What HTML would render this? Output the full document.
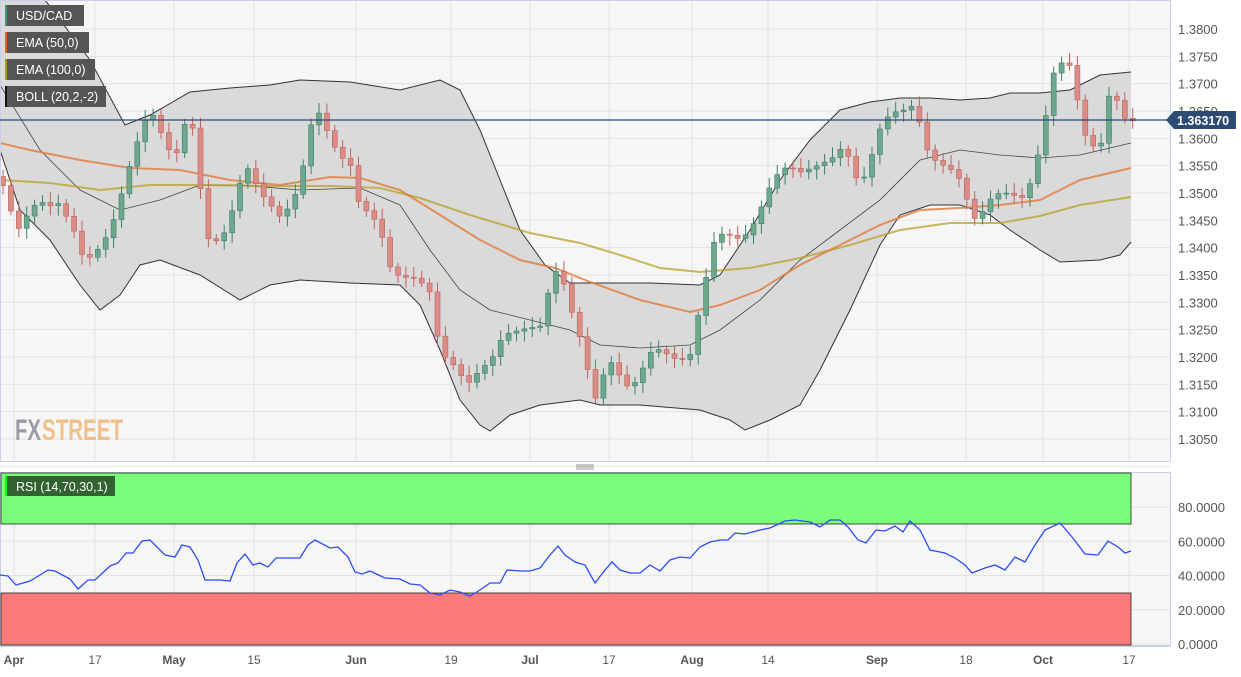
<!DOCTYPE html>
<html><head><meta charset="utf-8"><style>
html,body{margin:0;padding:0;background:#fff;}
body{width:1241px;height:672px;overflow:hidden;font-family:"Liberation Sans",sans-serif;}
</style></head><body>
<svg id="s" width="1241" height="672" xmlns="http://www.w3.org/2000/svg" font-family="Liberation Sans, sans-serif"></svg>
<script>
const S=document.getElementById('s');let h='';
const PY=p=>29+(1.38-p)*5466;
h+='<rect x="0" y="0" width="1241" height="672" fill="#fff"/>';
h+='<rect x="0.5" y="0.5" width="1170" height="461" fill="#f6f6f6" stroke="#c8d2e6"/>';
h+='<rect x="0.5" y="472.5" width="1170" height="173" fill="#f6f6f6" stroke="#c8d2e6"/>';
h+='<line x1="0" y1="646.5" x2="1170" y2="646.5" stroke="#c8d2e6"/>';
const vx=[14,95,174,254,356,451,530,609,692,768,877,966,1043,1129];
vx.forEach(x=>{h+=`<line x1="${x}" y1="1" x2="${x}" y2="461" stroke="#e2e2e2"/><line x1="${x}" y1="473" x2="${x}" y2="645" stroke="#e2e2e2"/>`});
for(let k=0;k<17;k++){const y=29+k*27.33;h+=`<line x1="1" y1="${y}" x2="1170" y2="${y}" stroke="#e2e2e2"/>`;
 if(k<16)h+=`<text x="1178" y="${y+5}" font-size="13" fill="#555">${(1.38-k*0.005).toFixed(4)}</text>`;}
[80,60,40,20,0].forEach(v=>{const y=644-v*1.7125;h+=`<line x1="1" y1="${y}" x2="1170" y2="${y}" stroke="#e2e2e2"/><text x="1178" y="${y+5}" font-size="13" fill="#555">${v.toFixed(4)}</text>`});
h+='<text x="15" y="440" font-size="30" font-weight="bold" fill="#9a9ca3" textLength="26" lengthAdjust="spacingAndGlyphs">FX</text><text x="42" y="440" font-size="30" font-weight="bold" fill="#f0c08a" textLength="81" lengthAdjust="spacingAndGlyphs">STREET</text>';
const P=a=>a.map(p=>p.join(',')).join(' ');
const up=[[0,-20],[45,0],[90,60],[125,125],[150,115],[190,92],[230,88],[270,85],[300,80],[350,82],[400,90],[440,80],[460,90],[480,130],[500,180],[520,230],[545,265],[570,283],[600,283],[650,283],[700,285],[720,275],[750,230],[780,180],[810,140],[840,110],[870,102],[900,98],[930,98],[960,100],[990,98],[1010,93],[1040,93],[1070,90],[1100,75],[1131,72]];
const lo=[[0,150],[20,210],[50,240],[80,285],[100,310],[120,295],[140,265],[160,260],[200,275],[240,300],[270,285],[300,280],[350,283],[400,285],[420,305],[440,350],[460,400],[480,425],[490,431],[510,415],[540,405],[580,400],[600,405],[640,405],[700,410],[730,420],[745,430],[770,420],[800,405],[820,370],[850,310],[880,245],[900,215],[930,205],[960,205],[990,215],[1010,230],[1040,250],[1060,262],[1100,260],[1120,255],[1131,242]];
const mid=[[0,85],[40,150],[80,190],[120,210],[160,200],[200,185],[240,185],[300,190],[360,188],[400,205],[430,250],[460,290],[490,310],[530,320],[570,330],[600,345],[640,348],[690,345],[720,330],[760,300],[800,260],[840,230],[880,200],[920,160],[960,150],[1000,155],[1040,158],[1080,155],[1131,143]];
const e50=[[0,143],[30,150],[80,160],[130,168],[180,170],[230,180],[280,185],[330,177],[360,178],[400,190],[440,215],[480,240],[520,260],[555,268],[590,282],[640,300],[690,312],[720,305],[760,290],[800,265],[840,245],[880,225],[920,210],[960,208],[1000,205],[1040,200],[1080,180],[1131,168]];
const e100=[[0,180],[50,183],[100,190],[150,185],[200,185],[260,186],[330,186],[380,188],[420,198],[470,215],[530,233],[580,243],[620,255],[660,268],[700,272],[750,268],[800,258],[850,245],[900,230],[950,223],[1000,223],[1040,216],[1080,205],[1131,197]];
h+='<defs><clipPath id="c"><rect x="1" y="1" width="1169" height="460"/></clipPath></defs><g clip-path="url(#c)">';
h+=`<polygon points="${P(up)} ${P(lo.slice().reverse())}" fill="#dadada"/>`;
h+=`<polyline points="${P(up)}" fill="none" stroke="#333" stroke-width="1"/><polyline points="${P(lo)}" fill="none" stroke="#333" stroke-width="1"/><polyline points="${P(mid)}" fill="none" stroke="#444" stroke-width="0.8"/>`;
h+=`<polyline points="${P(e100)}" fill="none" stroke="#b5a228" stroke-width="2" opacity="0.75"/><polyline points="${P(e50)}" fill="none" stroke="#e07a3a" stroke-width="2" opacity="0.8"/>`;
const an=[[3,1.3530],[14,1.3450],[20,1.3420],[40,1.3480],[60,1.3500],[75,1.3420],[85,1.3350],[100,1.3400],[110,1.3450],[125,1.3530],[140,1.3590],[150,1.3640],[160,1.3620],[175,1.3580],[185,1.3630],[195,1.3600],[205,1.3400],[220,1.3420],[235,1.3500],[245,1.3550],[260,1.3480],[280,1.3470],[300,1.3520],[315,1.3640],[330,1.3600],[350,1.3570],[360,1.3470],[380,1.3420],[390,1.3370],[410,1.3360],[430,1.3300],[440,1.3200],[455,1.3200],[470,1.3160],[490,1.3170],[505,1.3250],[520,1.3270],[540,1.3240],[555,1.3350],[565,1.3340],[580,1.3250],[595,1.3110],[610,1.3180],[630,1.3160],[650,1.3200],[670,1.3190],[690,1.3220],[700,1.3300],[715,1.3400],[740,1.3430],[760,1.3470],[790,1.3550],[810,1.3560],[830,1.3540],[845,1.3580],[860,1.3530],[880,1.3610],[900,1.3640],[915,1.3680],[930,1.3570],[945,1.3530],[960,1.3520],[975,1.3470],[990,1.3490],[1010,1.3480],[1025,1.3500],[1040,1.3600],[1055,1.3720],[1070,1.3720],[1085,1.3620],[1100,1.3590],[1110,1.3680],[1125,1.3620],[1133,1.3632]];
function ip(x){for(let i=1;i<an.length;i++){if(x<=an[i][0]){const a=an[i-1],b=an[i];return a[1]+(b[1]-a[1])*(x-a[0])/(b[0]-a[0]);}}return an[an.length-1][1];}
let prev=ip(3);
for(let x=3;x<=1133;x+=7.9){const xc=Math.min(x,1133);let c=ip(xc)+0.0018*Math.sin(xc*1.7);if(xc>=1130)c=1.3632;
 const o=prev;prev=c;const hi=Math.max(o,c)+0.0007+0.0012*Math.abs(Math.sin(xc*0.9)),lw=Math.min(o,c)-0.0007-0.0012*Math.abs(Math.cos(xc*1.3));
 const g=c>=o;const fc=g?'#6ea68e':'#d98d86',sc=g?'#3f8069':'#c0625c';
 const yt=PY(Math.max(o,c)),yb=PY(Math.min(o,c));
 h+=`<line x1="${xc}" y1="${PY(hi)}" x2="${xc}" y2="${PY(lw)}" stroke="${sc}"/><rect x="${xc-2.5}" y="${yt}" width="5" height="${Math.max(1,yb-yt)}" fill="${fc}" stroke="${sc}" stroke-width="0.6"/>`;}
h+='</g>';
h+='<line x1="0" y1="120" x2="1170" y2="120" stroke="#2c4a72" stroke-width="1.2"/>';
h+='<polygon points="1166,120 1174,111 1236,111 1236,129 1174,129" fill="#2c4a72"/><text x="1177" y="125" font-size="12.5" font-weight="bold" fill="#fff">1.363170</text>';
const L=[['USD/CAD','#3f8f7a',84],['EMA (50,0)','#e0661c',89],['EMA (100,0)','#a89a14',95],['BOLL (20,2,-2)','#111',106]];
L.forEach((l,i)=>{const y=5+i*27;h+=`<rect x="5" y="${y}" width="${l[2]-5}" height="21" fill="#555"/><rect x="5" y="${y}" width="2" height="21" fill="${l[1]}"/><text x="16" y="${y+15}" font-size="12.5" fill="#fff">${l[0]}</text>`});
h+='<rect x="1" y="473" width="1130" height="51" fill="#7bfc7b" stroke="#222" stroke-width="0.8"/>';
h+='<rect x="1" y="593" width="1130" height="52" fill="#fb7b7b" stroke="#222" stroke-width="0.8"/>';
h+='<rect x="5" y="476" width="110" height="20" fill="#316331"/><rect x="5" y="476" width="2" height="20" fill="#0f0"/><text x="16" y="491" font-size="12.5" fill="#fff">RSI (14,70,30,1)</text>';
const r=[[0,575],[8,576],[16,585],[30,581],[40,575],[48,570],[55,571],[70,579],[78,589],[88,580],[95,580],[110,566],[118,563],[126,553],[133,553],[142,541],[150,540],[165,555],[175,557],[182,545],[190,547],[198,560],[205,580],[220,580],[230,581],[237,563],[245,554],[253,565],[260,563],[268,567],[276,558],[300,558],[308,545],[315,540],[330,548],[338,547],[348,557],[355,572],[362,574],[370,571],[385,578],[400,579],[410,584],[420,585],[430,593],[440,595],[450,590],[460,592],[470,596],[480,590],[490,583],[500,583],[507,570],[520,571],[530,571],[540,568],[550,555],[558,546],[565,555],[575,562],[585,565],[595,583],[605,570],[612,562],[620,570],[630,573],[640,573],[650,565],[660,571],[670,560],[680,557],[690,558],[700,547],[710,542],[720,540],[728,540],[735,533],[745,534],[760,530],[770,528],[785,521],[795,520],[810,522],[820,527],[830,520],[840,520],[848,527],[858,540],[866,543],[876,530],[885,531],[895,526],[903,532],[910,521],[920,530],[930,550],[945,553],[955,558],[965,565],[972,573],[985,568],[995,565],[1005,570],[1015,557],[1025,562],[1035,545],[1045,530],[1060,523],[1072,537],[1085,554],[1098,555],[1108,541],[1118,547],[1125,553],[1131,551]];
h+=`<polyline points="${P(r)}" fill="none" stroke="#2b4cf0" stroke-width="1.3"/>`;
h+='<line x1="576" y1="465" x2="594" y2="465" stroke="#999"/><line x1="576" y1="467" x2="594" y2="467" stroke="#999"/><line x1="576" y1="469" x2="594" y2="469" stroke="#999"/>';
const xl=[[14,'Apr',1],[95,'17',0],[174,'May',1],[254,'15',0],[356,'Jun',1],[451,'19',0],[530,'Jul',1],[609,'17',0],[692,'Aug',1],[768,'14',0],[877,'Sep',1],[966,'18',0],[1043,'Oct',1],[1129,'17',0]];
xl.forEach(a=>{h+=`<text x="${a[0]}" y="664" font-size="12" text-anchor="middle" fill="#555" ${a[2]?'font-weight="bold"':''}>${a[1]}</text>`});
S.innerHTML=h;
</script>
</body></html>
